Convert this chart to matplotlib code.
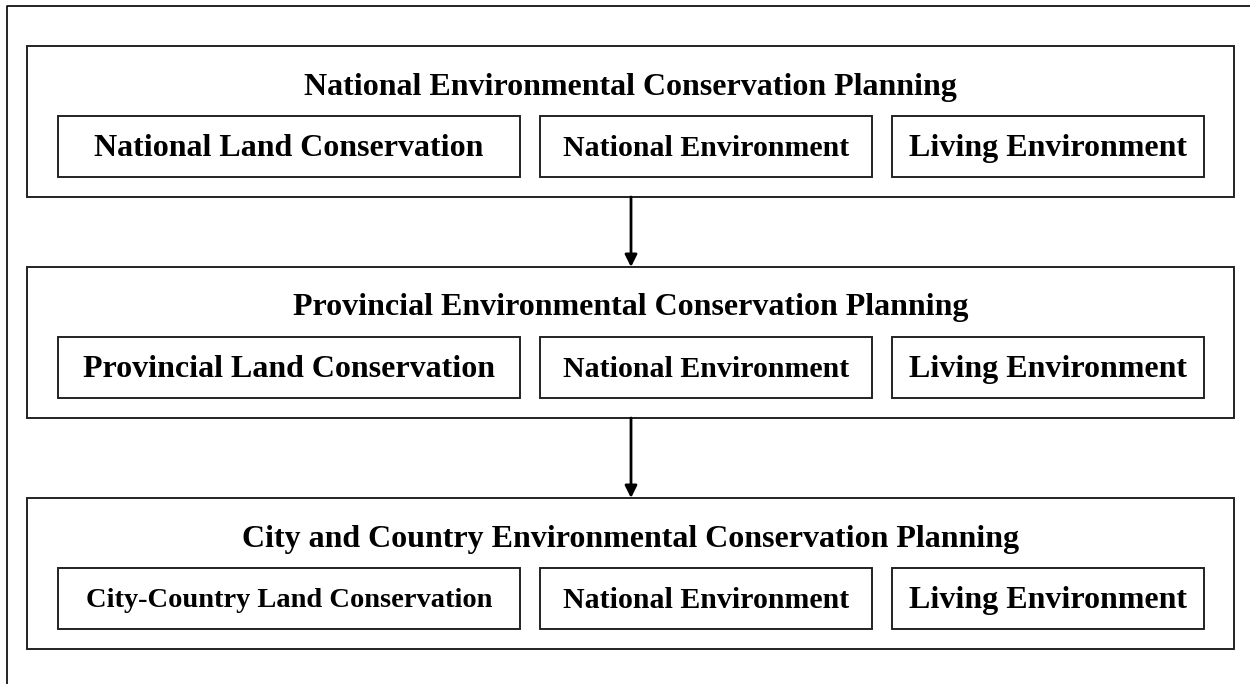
import matplotlib
matplotlib.use("Agg")
import matplotlib.pyplot as plt
from matplotlib.patches import Rectangle

# level titles and the three sub-boxes of each level
level_titles = [
    "National Environmental Conservation Planning",
    "Provincial Environmental Conservation Planning",
    "City and Country Environmental Conservation Planning",
]
land_labels = [
    "National Land Conservation",
    "Provincial Land Conservation",
    "City-Country Land Conservation",
]
nature_labels = ["National Environment", "National Environment", "National Environment"]
living_labels = ["Living Environment", "Living Environment", "Living Environment"]

plt.rcParams['font.family'] = ['Liberation Serif', 'DejaVu Serif']

fig = plt.figure(figsize=(12.5, 6.84), dpi=100)
ax = fig.add_axes([0, 0, 1, 1])
ax.set_xlim(0, 1250)
ax.set_ylim(684, 0)
ax.axis('off')

lw = 1.4
# outer frame: only left and top edges visible
ax.plot([7, 7, 1250], [684, 6, 6], color='black', lw=1.2)

box_tops = [46, 267, 498]
box_h = 151
outer_x0, outer_x1 = 27, 1234
sub_x = [(58, 520), (540, 872), (892, 1204)]
land_size = [23, 23, 20.5]

for i, top in enumerate(box_tops):
    ax.add_patch(Rectangle((outer_x0, top), outer_x1 - outer_x0, box_h,
                           fill=False, ec='#222222', lw=lw))
    ax.text((outer_x0 + outer_x1) / 2, top + 41, level_titles[i],
            ha='center', va='center', fontsize=23, fontweight='bold')
    sub_top = top + 70
    sub_h = 61
    labels = [land_labels[i], nature_labels[i], living_labels[i]]
    sizes = [land_size[i], 21.5, 23]
    for (x0, x1), lab, fs in zip(sub_x, labels, sizes):
        ax.add_patch(Rectangle((x0, sub_top), x1 - x0, sub_h,
                               fill=False, ec='#222222', lw=lw))
        ax.text((x0 + x1) / 2, sub_top + sub_h / 2 + 2, lab,
                ha='center', va='center', fontsize=fs, fontweight='bold')

# arrows between levels
for j in range(len(box_tops) - 1):
    ax.annotate('', xy=(631, box_tops[j + 1]), xytext=(631, box_tops[j] + box_h),
                arrowprops=dict(arrowstyle='-|>', color='black', lw=2,
                                mutation_scale=18, shrinkA=0, shrinkB=0))

fig.savefig('out.png', dpi=100)
